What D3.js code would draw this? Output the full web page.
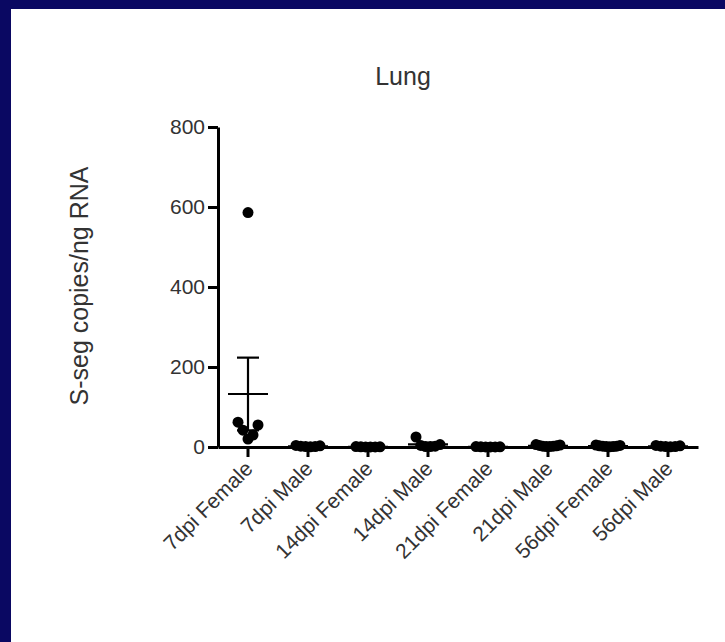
<!DOCTYPE html>
<html>
<head>
<meta charset="utf-8">
<script src="https://cdn.jsdelivr.net/npm/d3@7"></script>
<style>
  html, body { margin: 0; padding: 0; background: #0a0862; }
  svg { display: block; }
  text { font-family: "Liberation Sans", Arial, sans-serif; }
</style>
</head>
<body>
<svg id="chart" width="725" height="642"></svg>
<script>
const categories = ["7dpi Female", "7dpi Male", "14dpi Female", "14dpi Male",
                    "21dpi Female", "21dpi Male", "56dpi Female", "56dpi Male"];
const v7F  = [586, 62, 55, 42, 30, 20];
const v7M  = [4, 3, 2, 1, 1, 0.5];
const v14F = [1, 0.5, 0.5, 0.2, 0.1, 0.3];
const v14M = [25, 6, 4, 2, 1, 1];
const v21F = [1, 0.5, 0.3, 0.2, 0.1, 0.4];
const v21M = [6, 5, 4, 3, 2, 2, 1, 1];
const v56F = [5, 4, 3, 2, 2, 1, 1, 0.5];
const v56M = [4, 3, 2, 1, 1, 0.5];
const seriesValues = [v7F, v7M, v14F, v14M, v21F, v21M, v56F, v56M];
const yTicks = [0, 200, 400, 600, 800];
const title = "Lung";
const yTitle = "S-seg copies/ng RNA";

const svg = d3.select("#chart");
const W = 725, H = 642;
svg.append("rect").attr("x", 0).attr("y", 0).attr("width", W).attr("height", H).attr("fill", "#0a0862");
svg.append("rect").attr("x", 11).attr("y", 9).attr("width", W - 11).attr("height", H - 9).attr("fill", "#ffffff");

const x = d3.scaleBand().domain(categories).range([218, 698]).padding(0);
const y = d3.scaleLinear().domain([0, 800]).range([447, 127]);
const textColor = "#333";

// Y axis
const yAxis = svg.append("g").attr("transform", "translate(218,0)")
  .call(d3.axisLeft(y).tickValues(yTicks).tickSize(10).tickSizeOuter(0).tickPadding(3));
yAxis.select(".domain").attr("stroke", "#000").attr("stroke-width", 3);
yAxis.selectAll(".tick line").attr("stroke", "#000").attr("stroke-width", 3);
yAxis.selectAll(".tick text").attr("font-size", 21).attr("fill", textColor);

// X axis
const xAxis = svg.append("g").attr("transform", "translate(0,447)")
  .call(d3.axisBottom(x).tickSize(10).tickSizeOuter(0));
xAxis.select(".domain").attr("stroke", "#000").attr("stroke-width", 3);
xAxis.selectAll(".tick line").attr("stroke", "#000").attr("stroke-width", 3);
xAxis.selectAll(".tick text")
  .attr("font-size", 21).attr("fill", textColor)
  .attr("text-anchor", "end")
  .attr("x", 0).attr("y", 0).attr("dy", 0)
  .attr("transform", "translate(6,23) rotate(-45)");

// Points: overlapping points spread in a narrow clump
const r = 5.5;
categories.forEach((c, gi) => {
  const vals = seriesValues[gi].slice().sort((a, b) => b - a);
  const cx0 = x(c) + x.bandwidth() / 2;
  const clusters = [];
  vals.forEach(v => {
    const py = y(v);
    const last = clusters[clusters.length - 1];
    if (last && Math.abs(last[last.length - 1].py - py) < 2 * r) last.push({ v, py });
    else clusters.push([{ v, py }]);
  });
  const placed = [];
  clusters.forEach(cl => {
    const n = cl.length;
    const w = Math.min(12, (n - 1) * 2.5);
    cl.forEach((p, i) => {
      const order = i % 2 === 0 ? i / 2 : n - 1 - (i - 1) / 2;
      const off = n === 1 ? 0 : -w + (2 * w) * order / (n - 1);
      placed.push({ x: cx0 + off, y: p.py });
    });
  });
  svg.append("g").selectAll("circle").data(placed).join("circle")
    .attr("cx", d => d.x).attr("cy", d => d.y).attr("r", r).attr("fill", "#000");

  const vs = seriesValues[gi];
  const mean = d3.mean(vs);
  const sem = d3.deviation(vs) / Math.sqrt(vs.length);
  const g = svg.append("g").attr("stroke", "#000").attr("stroke-width", 2.2);
  g.append("line").attr("x1", cx0 - 20).attr("x2", cx0 + 20).attr("y1", y(mean)).attr("y2", y(mean));
  g.append("line").attr("x1", cx0).attr("x2", cx0).attr("y1", y(mean - sem)).attr("y2", y(mean + sem));
  g.append("line").attr("x1", cx0 - 11).attr("x2", cx0 + 11).attr("y1", y(mean + sem)).attr("y2", y(mean + sem));
  g.append("line").attr("x1", cx0 - 11).attr("x2", cx0 + 11).attr("y1", y(Math.max(0, mean - sem))).attr("y2", y(Math.max(0, mean - sem)));
});

// Titles
svg.append("text").attr("x", 403).attr("y", 85).attr("text-anchor", "middle")
  .attr("font-size", 25).attr("fill", textColor).text(title);
svg.append("text").attr("transform", "translate(88,286) rotate(-90)").attr("text-anchor", "middle")
  .attr("font-size", 25).attr("fill", textColor).text(yTitle);
</script>
</body>
</html>
